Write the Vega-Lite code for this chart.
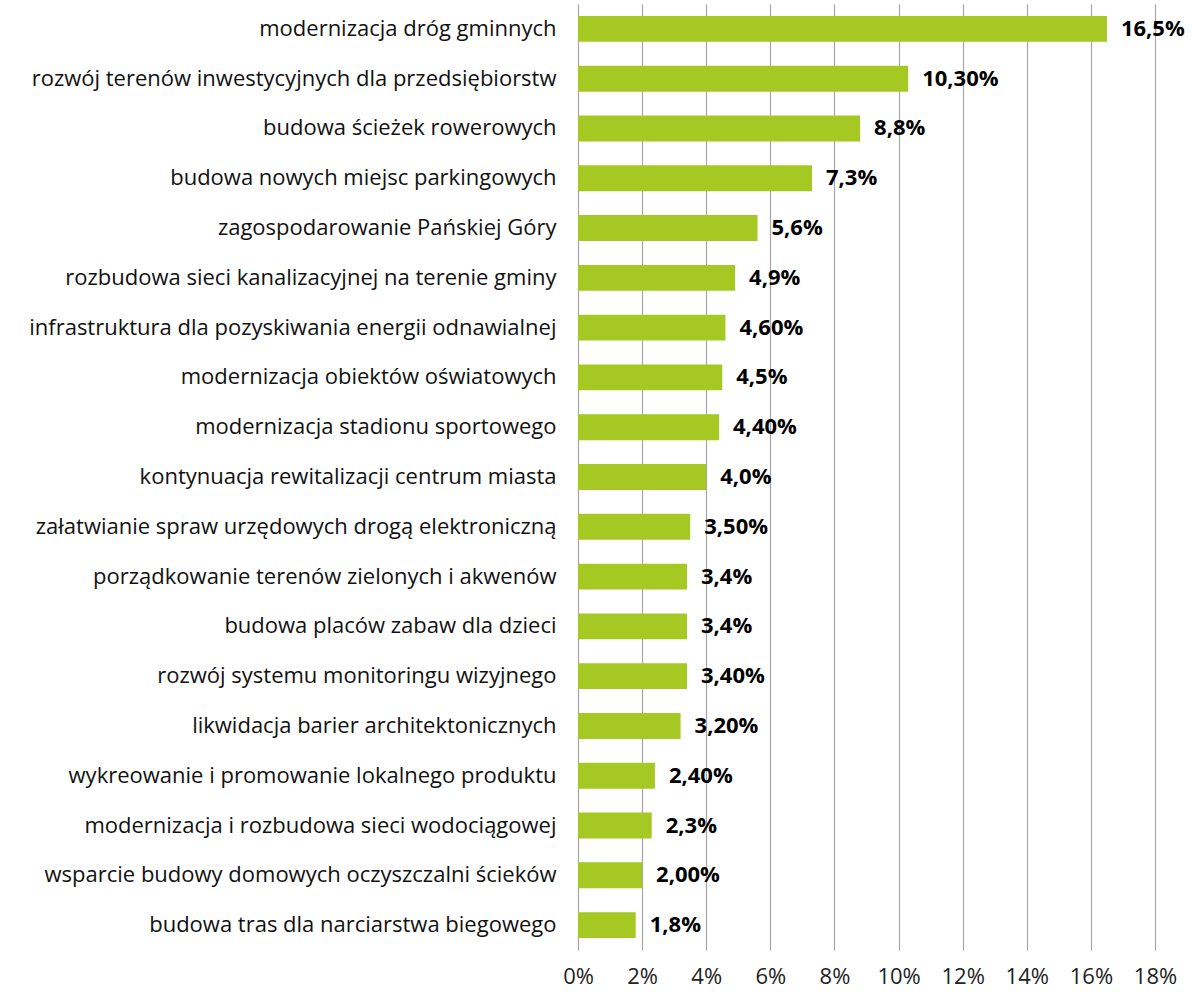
{
  "$schema": "https://vega.github.io/schema/vega-lite/v6.json",
  "width": 577,
  "height": 946,
  "autosize": {"type": "none"},
  "padding": {"left": 578, "top": 4, "right": 37, "bottom": 44},
  "background": "white",
  "config": {"view": {"stroke": null}, "font": "Open Sans"},
  "data": {"values": [
    {"cat": "modernizacja dróg gminnych", "v": 16.5, "lab": "16,5%"},
    {"cat": "rozwój terenów inwestycyjnych dla przedsiębiorstw", "v": 10.3, "lab": "10,30%"},
    {"cat": "budowa ścieżek rowerowych", "v": 8.8, "lab": "8,8%"},
    {"cat": "budowa nowych miejsc parkingowych", "v": 7.3, "lab": "7,3%"},
    {"cat": "zagospodarowanie Pańskiej Góry", "v": 5.6, "lab": "5,6%"},
    {"cat": "rozbudowa sieci kanalizacyjnej na terenie gminy", "v": 4.9, "lab": "4,9%"},
    {"cat": "infrastruktura dla pozyskiwania energii odnawialnej", "v": 4.6, "lab": "4,60%"},
    {"cat": "modernizacja obiektów oświatowych", "v": 4.5, "lab": "4,5%"},
    {"cat": "modernizacja stadionu sportowego", "v": 4.4, "lab": "4,40%"},
    {"cat": "kontynuacja rewitalizacji centrum miasta", "v": 4.0, "lab": "4,0%"},
    {"cat": "załatwianie spraw urzędowych drogą elektroniczną", "v": 3.5, "lab": "3,50%"},
    {"cat": "porządkowanie terenów zielonych i akwenów", "v": 3.4, "lab": "3,4%"},
    {"cat": "budowa placów zabaw dla dzieci", "v": 3.4, "lab": "3,4%"},
    {"cat": "rozwój systemu monitoringu wizyjnego", "v": 3.4, "lab": "3,40%"},
    {"cat": "likwidacja barier architektonicznych", "v": 3.2, "lab": "3,20%"},
    {"cat": "wykreowanie i promowanie lokalnego produktu", "v": 2.4, "lab": "2,40%"},
    {"cat": "modernizacja i rozbudowa sieci wodociągowej", "v": 2.3, "lab": "2,3%"},
    {"cat": "wsparcie budowy domowych oczyszczalni ścieków", "v": 2.0, "lab": "2,00%"},
    {"cat": "budowa tras dla narciarstwa biegowego", "v": 1.8, "lab": "1,8%"}
  ]},
  "encoding": {
    "y": {
      "field": "cat", "type": "nominal", "sort": null,
      "scale": {"paddingInner": 0.48, "paddingOuter": 0.24},
      "axis": {"title": null, "domain": false, "ticks": false, "labelPadding": 22, "labelFontSize": 22, "labelColor": "#111", "labelLimit": 700, "labelFont": "Open Sans"}
    }
  },
  "layer": [
    {
      "mark": {"type": "bar", "color": "#A5C822"},
      "encoding": {
        "x": {
          "field": "v", "type": "quantitative",
          "scale": {"domain": [0, 18], "nice": false},
          "axis": {"title": null, "values": [0,2,4,6,8,10,12,14,16,18], "labelExpr": "datum.value + '%'", "labelFlush": false, "labelOverlap": false, "domain": false, "ticks": false, "grid": true, "gridColor": "#A6A6A6", "gridWidth": 1.2, "labelFontSize": 22, "labelColor": "#222", "labelPadding": 16, "labelFont": "Open Sans"}
        }
      }
    },
    {
      "mark": {"type": "text", "align": "left", "dx": 14, "fontWeight": "bold", "fontSize": 22, "color": "#000", "font": "Open Sans"},
      "encoding": {
        "x": {"field": "v", "type": "quantitative"},
        "text": {"field": "lab", "type": "nominal"}
      }
    }
  ]
}
